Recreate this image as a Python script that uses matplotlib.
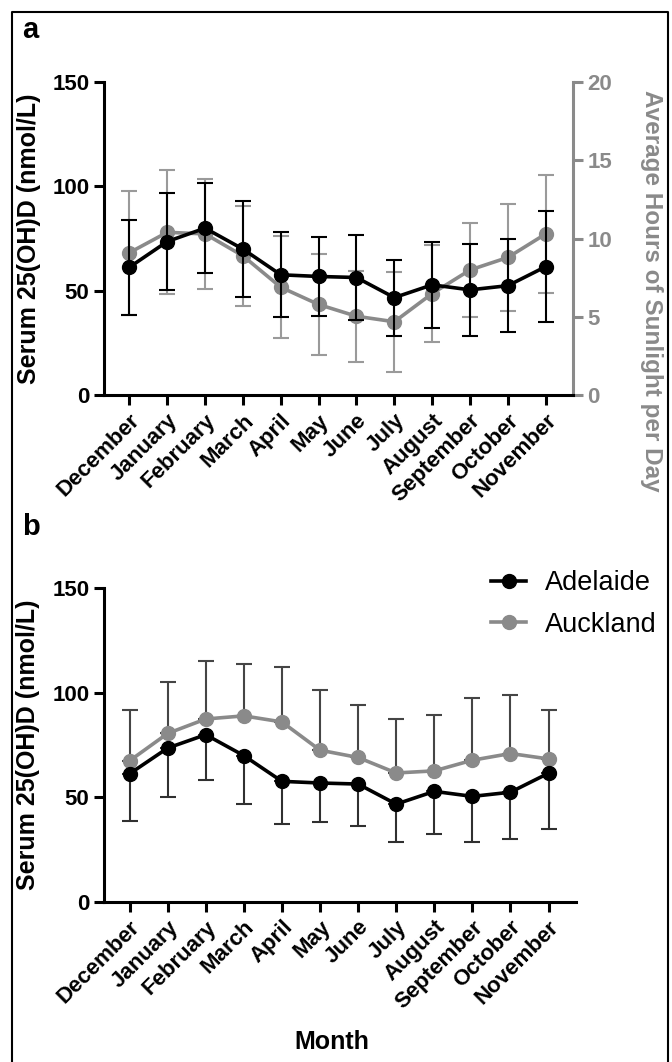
import numpy as np
import matplotlib.pyplot as plt

plt.rcParams['font.family'] = ['Liberation Sans', 'DejaVu Sans']

months = ['December', 'January', 'February', 'March', 'April', 'May', 'June',
          'July', 'August', 'September', 'October', 'November']

adelaide_mean = [61.3, 73.6, 80.0, 70.0, 57.7, 56.9, 56.4, 46.8, 52.9, 50.5, 52.5, 61.6]
adelaide_sd = [22.7, 23.2, 21.6, 23.1, 20.3, 18.8, 20.2, 18.2, 20.6, 21.9, 22.2, 26.6]

sun_mean = [9.1, 10.4, 10.3, 8.9, 6.9, 5.8, 5.05, 4.7, 6.5, 8.0, 8.8, 10.3]
sun_sd = [3.95, 3.95, 3.5, 3.2, 3.25, 3.2, 2.9, 3.2, 3.1, 3.0, 3.4, 3.75]

auckland_mean = [67.5, 80.6, 87.5, 89.0, 86.1, 72.6, 69.1, 61.7, 62.7, 67.8, 71.0, 68.4]
auckland_sd = [24.3, 24.8, 27.7, 24.7, 26.1, 28.6, 25.0, 26.0, 26.9, 29.8, 28.0, 23.4]

W, H = 672, 1062
fig = plt.figure(figsize=(W / 100, H / 100), dpi=100)

GRAY = '#8a8a8a'
LGRAY = '#9a9a9a'
x = np.arange(len(months))
fs = 16      # tick labels
tfs = 18     # axis titles


def style_axis(ax):
    ax.set_xlim(-0.67, 11.72)
    ax.set_ylim(0, 150)
    ax.set_yticks([0, 50, 100, 150])
    ax.spines['top'].set_visible(False)
    ax.spines['right'].set_visible(False)
    for s in ['left', 'bottom']:
        ax.spines[s].set_linewidth(2.2)
    ax.tick_params(width=2.2, length=7, labelsize=fs)
    ax.set_xticks(x)
    ax.set_xticklabels(months, rotation=45, ha='right', rotation_mode='anchor',
                       fontweight='bold', fontsize=fs)
    for lab in ax.get_yticklabels():
        lab.set_fontweight('bold')
    ax.set_ylabel('Serum 25(OH)D (nmol/L)', fontsize=tfs, fontweight='bold')
    ax.yaxis.set_label_coords(-0.135, 0.5)


# panel a
ax1 = fig.add_axes([104 / W, 1 - 395.5 / H, (573 - 104) / W, (395.5 - 81.7) / H])
ax2 = ax1.twinx()
ax2.errorbar(x, sun_mean, yerr=sun_sd, color=GRAY, lw=2.6, marker='o', ms=10,
             ecolor=LGRAY, elinewidth=1.5, capsize=6, capthick=1.5)
ax2.set_ylim(0, 20)
ax2.set_yticks([0, 5, 10, 15, 20])
ax2.spines['top'].set_visible(False)
ax2.spines['left'].set_visible(False)
ax2.spines['bottom'].set_visible(False)
ax2.spines['right'].set_color(GRAY)
ax2.spines['right'].set_linewidth(2.2)
ax2.tick_params(colors=GRAY, width=2.2, length=7, labelsize=fs)
for lab in ax2.get_yticklabels():
    lab.set_fontweight('bold')
fig.text(651 / W, 1 - 291 / H, 'Average Hours of Sunlight per Day', color=GRAY,
         fontsize=17.5, fontweight='bold', rotation=-90, ha='center', va='center')

ax1.errorbar(x, adelaide_mean, yerr=adelaide_sd, color='black', lw=2.6, marker='o', ms=10,
             ecolor='black', elinewidth=1.5, capsize=6, capthick=1.5, zorder=5)
ax1.set_zorder(ax2.get_zorder() + 1)
ax1.patch.set_visible(False)
style_axis(ax1)

# panel b
ax3 = fig.add_axes([104 / W, 1 - 902 / H, (576 - 104) / W, (902 - 588.3) / H])
ax3.errorbar(x, auckland_mean, yerr=[np.zeros(len(x)), auckland_sd], color=GRAY, lw=2.6,
             marker='o', ms=10, ecolor='#454545', elinewidth=1.5, capsize=6, capthick=1.5,
             label='Auckland')
ax3.errorbar(x, adelaide_mean, yerr=[adelaide_sd, np.zeros(len(x))], color='black', lw=2.6,
             marker='o', ms=10, ecolor='#303030', elinewidth=1.5, capsize=6, capthick=1.5,
             label='Adelaide')
style_axis(ax3)
fig.text(332 / W, 1 - 1042 / H, 'Month', fontsize=18, fontweight='bold',
         ha='center', va='center')
h, l = ax3.get_legend_handles_labels()
leg = fig.legend([c[0] for c in h[::-1]], l[::-1], loc='upper left',
                 bbox_to_anchor=(491 / W, 1 - 570 / H), frameon=False, fontsize=19.5,
                 handlelength=1.3, handletextpad=0.7, labelspacing=0.58,
                 borderpad=0, borderaxespad=0)

# panel letters and frame
fig.text(22 / W, 1 - 30 / H, 'a', fontsize=21, fontweight='bold', va='center')
fig.text(22 / W, 1 - 527 / H, 'b', fontsize=21, fontweight='bold', va='center')
fig.add_artist(plt.Line2D([12 / W, 12 / W, 668 / W, 668 / W], [0, 1 - 12 / H, 1 - 12 / H, 0],
                          color='black', lw=1.5, transform=fig.transFigure))

fig.savefig('out.png', dpi=100)
